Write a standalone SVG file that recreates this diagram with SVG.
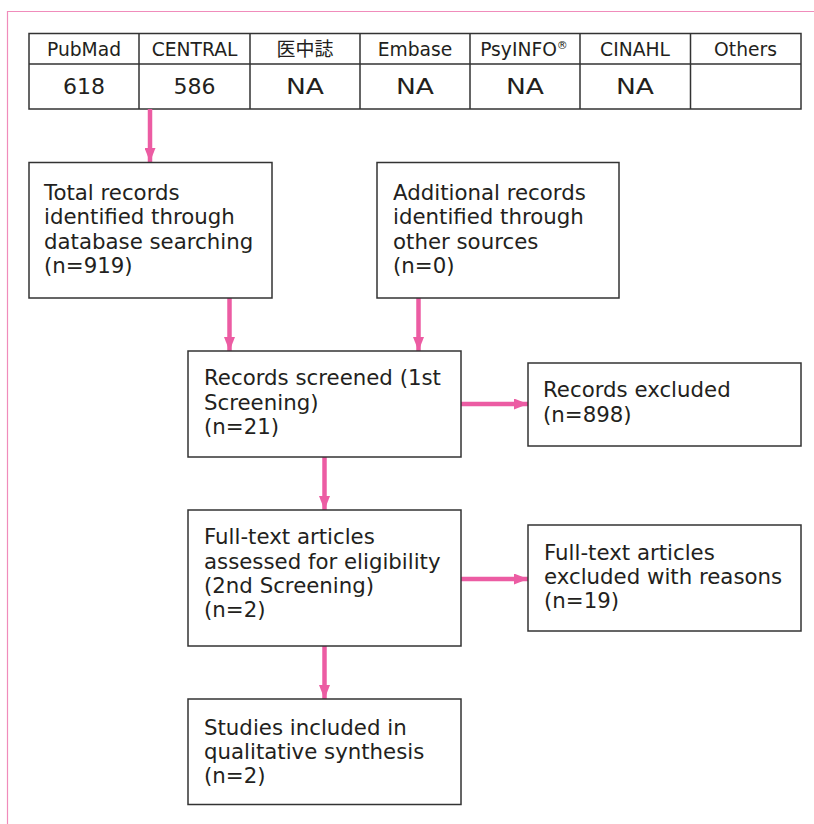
<svg xmlns="http://www.w3.org/2000/svg" width="814" height="824" viewBox="0 0 814 824">
  <style>
    .frame { fill: none; stroke: #f08cbb; stroke-width: 1.2; }
    .box { fill: #ffffff; stroke: #333333; stroke-width: 1.5; }
    .grid { fill: none; stroke: #333333; stroke-width: 1.5; }
    .t { font-family: "DejaVu Sans", "Liberation Sans", sans-serif; font-size: 21.3px; fill: #231f20; }
    .th { font-family: "DejaVu Sans", "Liberation Sans", "Noto Sans CJK JP", sans-serif; font-size: 18.7px; fill: #231f20; text-anchor: middle; }
    .tj { font-family: "Noto Sans CJK JP", sans-serif; font-size: 19px; fill: #231f20; text-anchor: middle; }
    .td { font-family: "DejaVu Sans", "Liberation Sans", sans-serif; font-size: 22px; fill: #231f20; text-anchor: middle; }
    .sup { font-size: 11px; }
    .link { fill: none; stroke: #ec5ca3; stroke-width: 4.5; }
  </style>
  <defs>
    <marker id="arrow" viewBox="0 0 14 11" refX="14" refY="5.5" markerWidth="14" markerHeight="11" markerUnits="userSpaceOnUse" orient="auto">
      <path d="M0,0 L14,5.5 L0,11 Z" fill="#ec5ca3"/>
    </marker>
  </defs>

  <rect width="814" height="824" fill="#ffffff"/>

  <!-- outer frame: top and left rules only -->
  <path class="frame" d="M7.5,824 V11.5 H814"/>

  <!-- database table -->
  <g id="database-table">
    <rect class="grid" x="29" y="33.5" width="772" height="75.5"/>
    <path class="grid" d="M29,64 H801 M139,33.5 V109 M250,33.5 V109 M360,33.5 V109 M470,33.5 V109 M580,33.5 V109 M690.5,33.5 V109"/>
    <text class="th" x="84" y="55.5">PubMad</text>
    <text class="th" x="194.5" y="55.5">CENTRAL</text>
    <text class="tj" x="305" y="55.5">医中誌</text>
    <text class="th" x="415" y="55.5">Embase</text>
    <text class="th" x="524" y="55.5">PsyINFO<tspan class="sup" dy="-7">®</tspan></text>
    <text class="th" x="635" y="55.5">CINAHL</text>
    <text class="th" x="745.5" y="55.5">Others</text>
    <text class="td" x="84" y="94">618</text>
    <text class="td" x="194.5" y="94">586</text>
    <text class="td" x="305" y="94" textLength="38" lengthAdjust="spacingAndGlyphs">NA</text>
    <text class="td" x="415" y="94" textLength="38" lengthAdjust="spacingAndGlyphs">NA</text>
    <text class="td" x="525" y="94" textLength="38" lengthAdjust="spacingAndGlyphs">NA</text>
    <text class="td" x="635" y="94" textLength="38" lengthAdjust="spacingAndGlyphs">NA</text>
  </g>

  <!-- connectors -->
  <g id="connectors">
    <line class="link" x1="150" y1="109" x2="150" y2="162" marker-end="url(#arrow)"/>
    <line class="link" x1="229.5" y1="298" x2="229.5" y2="351" marker-end="url(#arrow)"/>
    <line class="link" x1="418.5" y1="298" x2="418.5" y2="351" marker-end="url(#arrow)"/>
    <line class="link" x1="461" y1="404" x2="528" y2="404" marker-end="url(#arrow)"/>
    <line class="link" x1="324.5" y1="457" x2="324.5" y2="510" marker-end="url(#arrow)"/>
    <line class="link" x1="461" y1="579" x2="528" y2="579" marker-end="url(#arrow)"/>
    <line class="link" x1="324.5" y1="646" x2="324.5" y2="699" marker-end="url(#arrow)"/>
  </g>

  <g id="db-records">
    <rect class="box" x="29" y="162.5" width="243" height="135.5"/>
    <text class="t" x="44" y="200">Total records</text>
    <text class="t" x="44" y="224">identified through</text>
    <text class="t" x="44" y="248.5">database searching</text>
    <text class="t" x="44" y="273">(n=919)</text>
  </g>

  <g id="other-records">
    <rect class="box" x="377" y="162.5" width="242" height="135.5"/>
    <text class="t" x="393" y="200">Additional records</text>
    <text class="t" x="393" y="224">identified through</text>
    <text class="t" x="393" y="248.5">other sources</text>
    <text class="t" x="393" y="273">(n=0)</text>
  </g>

  <g id="screened">
    <rect class="box" x="188" y="351" width="273" height="106"/>
    <text class="t" x="204" y="385">Records screened (1st</text>
    <text class="t" x="204" y="409.5">Screening)</text>
    <text class="t" x="204" y="434">(n=21)</text>
  </g>

  <g id="excluded">
    <rect class="box" x="528" y="363" width="273" height="83"/>
    <text class="t" x="543" y="397">Records excluded</text>
    <text class="t" x="543" y="421.5">(n=898)</text>
  </g>

  <g id="eligibility">
    <rect class="box" x="188" y="510" width="273" height="136"/>
    <text class="t" x="204" y="544">Full-text articles</text>
    <text class="t" x="204" y="568.5">assessed for eligibility</text>
    <text class="t" x="204" y="593">(2nd Screening)</text>
    <text class="t" x="204" y="617">(n=2)</text>
  </g>

  <g id="fulltext-excluded">
    <rect class="box" x="528" y="525" width="273" height="106"/>
    <text class="t" x="544" y="559.5">Full-text articles</text>
    <text class="t" x="544" y="584">excluded with reasons</text>
    <text class="t" x="544" y="608">(n=19)</text>
  </g>

  <g id="included">
    <rect class="box" x="188" y="699" width="273" height="105.5"/>
    <text class="t" x="204" y="735">Studies included in</text>
    <text class="t" x="204" y="759">qualitative synthesis</text>
    <text class="t" x="204" y="783">(n=2)</text>
  </g>
</svg>
